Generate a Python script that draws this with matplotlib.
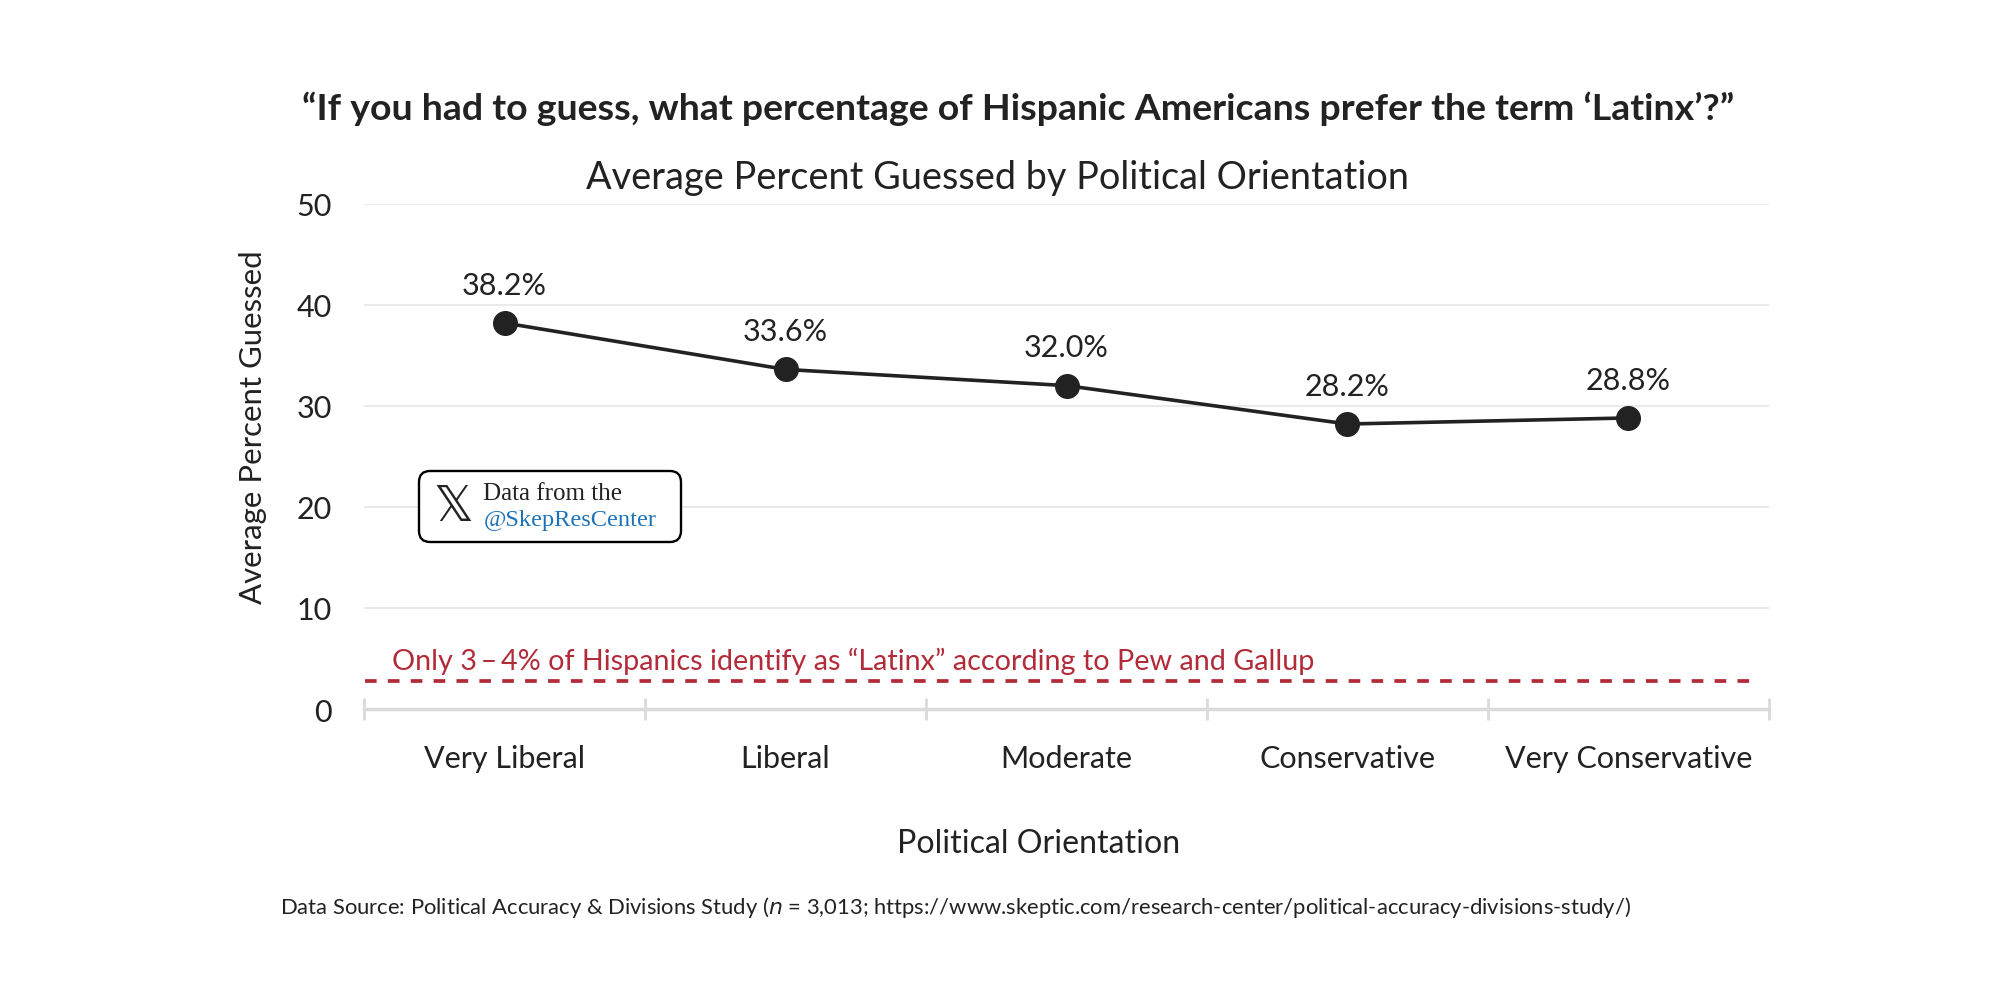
import matplotlib
matplotlib.use("Agg")
import matplotlib.pyplot as plt
from matplotlib.patches import FancyBboxPatch
from matplotlib.transforms import IdentityTransform

# data
categories = ["Very Liberal", "Liberal", "Moderate", "Conservative", "Very Conservative"]
avg_guess = [38.2, 33.6, 32.0, 28.2, 28.8]
value_labels = ["38.2%", "33.6%", "32.0%", "28.2%", "28.8%"]
latinx_actual = 2.8
y_ticks = [0, 10, 20, 30, 40, 50]

title_txt = "\u201cIf you had to guess, what percentage of Hispanic Americans prefer the term \u2018Latinx\u2019?\u201d"
subtitle_txt = "Average Percent Guessed by Political Orientation"
note_txt = "Only 3\u2009\u2013\u20094% of Hispanics identify as \u201cLatinx\u201d according to Pew and Gallup"
source_txt = ("Data Source: Political Accuracy & Divisions Study ($\\it{n}$ = 3,013; "
              "https://www.skeptic.com/research-center/political-accuracy-divisions-study/)")

W, H = 2000, 1004
DARK = "#222222"
RED = "#b22b39"
BLUE = "#1e73b8"
GRID = "#e6e6e6"
AXIS = "#dadada"

plt.rcParams["font.family"] = ["Lato", "DejaVu Sans"]
plt.rcParams["text.color"] = DARK


def fx(px):
    return px / W


def fy(py):
    return 1 - py / H


fig = plt.figure(figsize=(20, 10.04), dpi=100)
ax = fig.add_axes([fx(364), fy(710), fx(1769) - fx(364), fy(204.7) - fy(710)])

x = list(range(len(categories)))
ax.plot(x, avg_guess, color=DARK, lw=2.6, marker="o", ms=17, zorder=4)
for xi, yi, lab in zip(x, avg_guess, value_labels):
    ax.annotate(lab, (xi, yi), xytext=(0, 21), textcoords="offset points",
                ha="center", va="baseline", fontsize=22, color=DARK)

ax.plot([-0.497, 4.44], [latinx_actual, latinx_actual], color=RED, lw=2.7,
        dashes=(3.1, 3.0), zorder=3)

ax.set_xlim(-0.5, len(categories) - 0.5)
ax.set_ylim(0, 50)
ax.set_yticks(y_ticks)
ax.set_xticks(x)
ax.set_xticklabels(categories)
ax.set_xticks([i - 0.5 for i in range(len(categories) + 1)], minor=True)
ax.tick_params(axis="x", which="major", length=0, labelsize=22, pad=25, labelcolor=DARK)
ax.tick_params(axis="x", which="minor", direction="inout", length=16, width=2, color=AXIS)
ax.tick_params(axis="y", length=0, labelsize=22, pad=23, labelcolor=DARK)
ax.grid(axis="y", color=GRID, lw=1.2)
ax.set_axisbelow(True)
for s in ["top", "right", "left"]:
    ax.spines[s].set_visible(False)
ax.spines["bottom"].set_color(AXIS)
ax.spines["bottom"].set_linewidth(2.5)
ax.spines["bottom"].set_zorder(1)

# texts placed in pixel positions, widths fitted after a draw
texts = []
t = fig.text(fx(1018), fy(120), title_txt, ha="center", va="baseline", fontsize=28,
             fontweight="bold")
texts.append((t, 1434, "w"))
t = fig.text(fx(997), fy(189), subtitle_txt, ha="center", va="baseline", fontsize=26)
texts.append((t, 821, "w"))
t = fig.text(fx(392), fy(670), note_txt, ha="left", va="baseline", fontsize=20, color=RED)
texts.append((t, 924, "w"))
t = fig.text(fx(1038.5), fy(853), "Political Orientation", ha="center", va="baseline", fontsize=22)
texts.append((t, 281, "w"))
t = fig.text(fx(253), fy(427), "Average Percent Guessed", ha="center", va="center",
             rotation=90, fontsize=22)
texts.append((t, 352, "h"))
t = fig.text(fx(955), fy(914), source_txt, ha="center", va="baseline", fontsize=14)
texts.append((t, 1356, "w"))

# badge (pixel coordinates)
box = FancyBboxPatch((419, H - 543), 262, 71, boxstyle="round,pad=0,rounding_size=11",
                     transform=IdentityTransform(), facecolor="white", edgecolor="black",
                     lw=1.7, zorder=5)
fig.add_artist(box)
t = fig.text(fx(453.5), fy(507), "\U0001D54F", ha="center", va="center", fontsize=34,
             family=["DejaVu Sans"], zorder=6)
texts.append((t, 40, "w"))
t = fig.text(fx(483), fy(500), "Data from the", ha="left", va="baseline", fontsize=16,
             family=["Liberation Serif", "DejaVu Serif"], zorder=6)
texts.append((t, 139, "w"))
t = fig.text(fx(484), fy(526), "@SkepResCenter", ha="left", va="baseline", fontsize=16,
             family=["Liberation Serif", "DejaVu Serif"], color=BLUE, zorder=6)
texts.append((t, 173, "w"))

fig.canvas.draw()
r = fig.canvas.get_renderer()
for t, target, dim in texts:
    bb = t.get_window_extent(r)
    size = bb.width if dim == "w" else bb.height
    t.set_fontsize(t.get_fontsize() * target / size)

fig.savefig("out.png", dpi=100, facecolor="white")
